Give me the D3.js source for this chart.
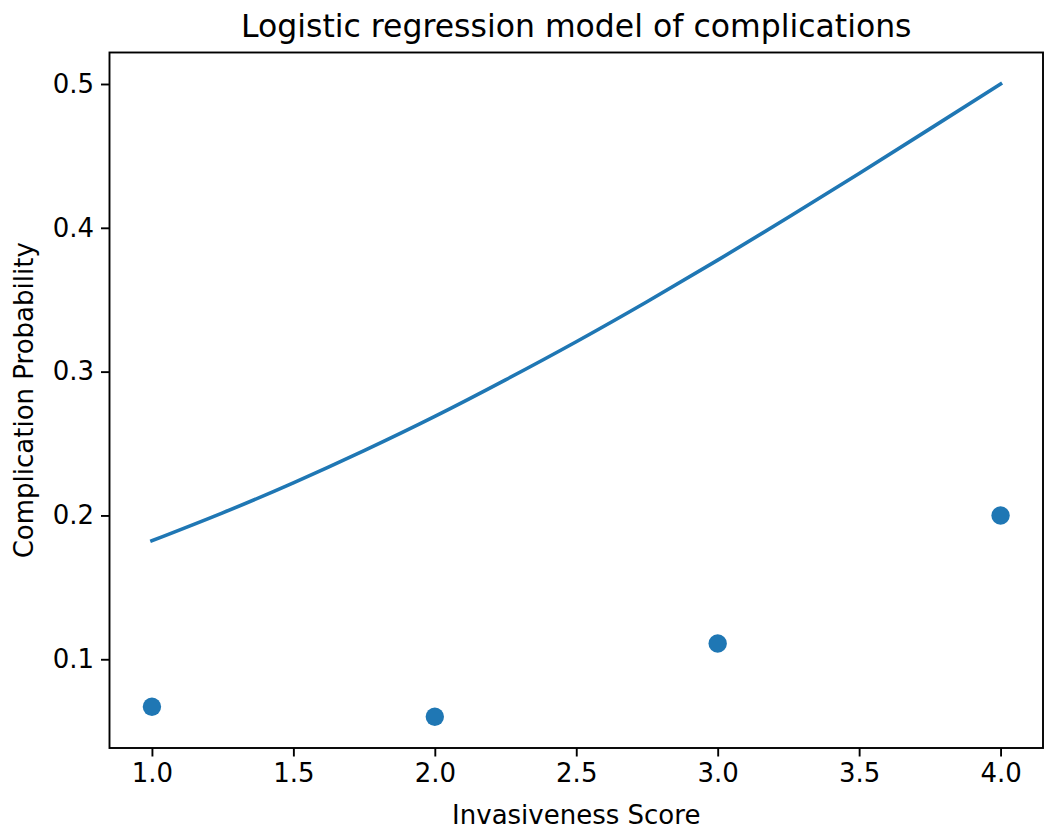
<!DOCTYPE html>
<html>
<head>
<meta charset="utf-8">
<script src="https://cdn.jsdelivr.net/npm/d3@7"></script>
<style>
  html, body { margin: 0; padding: 0; background: #fff; }
  svg text { font-family: "DejaVu Sans", sans-serif; fill: #000; }
</style>
</head>
<body>
<svg id="chart" width="1055" height="836"></svg>
<script>
// observed complication rates per invasiveness score
const scores = [1, 2, 3, 4];
const observed = [0.067, 0.060, 0.111, 0.200];

// fitted curve
const curveX = [1.0, 1.25, 1.5, 1.75, 2.0, 2.25, 2.5, 2.75, 3.0, 3.25, 3.5, 3.75, 4.0];
const curveY = [0.1824, 0.2018, 0.2227, 0.2451, 0.2689, 0.2943, 0.3208, 0.3486, 0.3775, 0.4073, 0.4378, 0.4688, 0.5000];

const xTicks = [1.0, 1.5, 2.0, 2.5, 3.0, 3.5, 4.0];
const yTicks = [0.1, 0.2, 0.3, 0.4, 0.5];

const blue = "#1f77b4";
const svg = d3.select("#chart");
const margin = { top: 52.5, right: 12, bottom: 88, left: 109.5 };
const width = 1055 - margin.left - margin.right;
const height = 836 - margin.top - margin.bottom;

const x = d3.scaleLinear().domain([0.85, 4.15]).range([0, width]);
const y = d3.scaleLinear().domain([0.0383, 0.5219]).range([height, 0]);

const g = svg.append("g").attr("transform", `translate(${margin.left},${margin.top})`);

// curve
const line = d3.line()
  .x((d, i) => x(curveX[i]))
  .y(d => y(d))
  .curve(d3.curveNatural);

g.append("path")
  .datum(curveY)
  .attr("d", line)
  .style("fill", "none")
  .style("stroke", blue)
  .style("stroke-width", 3.6)
  .style("stroke-linecap", "square");

// points
g.selectAll(".dot")
  .data(observed)
  .enter().append("circle")
  .attr("class", "dot")
  .attr("cx", (d, i) => x(scores[i]))
  .attr("cy", d => y(d))
  .attr("r", 9.2)
  .style("fill", blue);

// axes
const xAxis = g.append("g")
  .attr("transform", `translate(0,${height})`)
  .call(d3.axisBottom(x).tickValues(xTicks).tickFormat(d3.format(".1f")).tickSizeOuter(0).tickSize(8.5).tickPadding(7));
const yAxis = g.append("g")
  .call(d3.axisLeft(y).tickValues(yTicks).tickFormat(d3.format(".1f")).tickSizeOuter(0).tickSize(8.5).tickPadding(7));

[xAxis, yAxis].forEach(a => {
  a.select(".domain").remove();
  a.selectAll(".tick line").style("stroke", "#000").style("stroke-width", 1.9);
  a.selectAll(".tick text").style("font-size", "26px").style("font-family", "DejaVu Sans");
});

// frame
g.append("rect")
  .attr("width", width)
  .attr("height", height)
  .style("fill", "none")
  .style("stroke", "#000")
  .style("stroke-width", 1.9);

// labels
svg.append("text")
  .attr("x", margin.left + width / 2)
  .attr("y", 37)
  .attr("text-anchor", "middle")
  .style("font-size", "31.5px")
  .text("Logistic regression model of complications");

svg.append("text")
  .attr("x", margin.left + width / 2)
  .attr("y", 824)
  .attr("text-anchor", "middle")
  .style("font-size", "26px")
  .text("Invasiveness Score");

svg.append("text")
  .attr("transform", `translate(33,${margin.top + height / 2}) rotate(-90)`)
  .attr("text-anchor", "middle")
  .style("font-size", "26px")
  .text("Complication Probability");
</script>
</body>
</html>
